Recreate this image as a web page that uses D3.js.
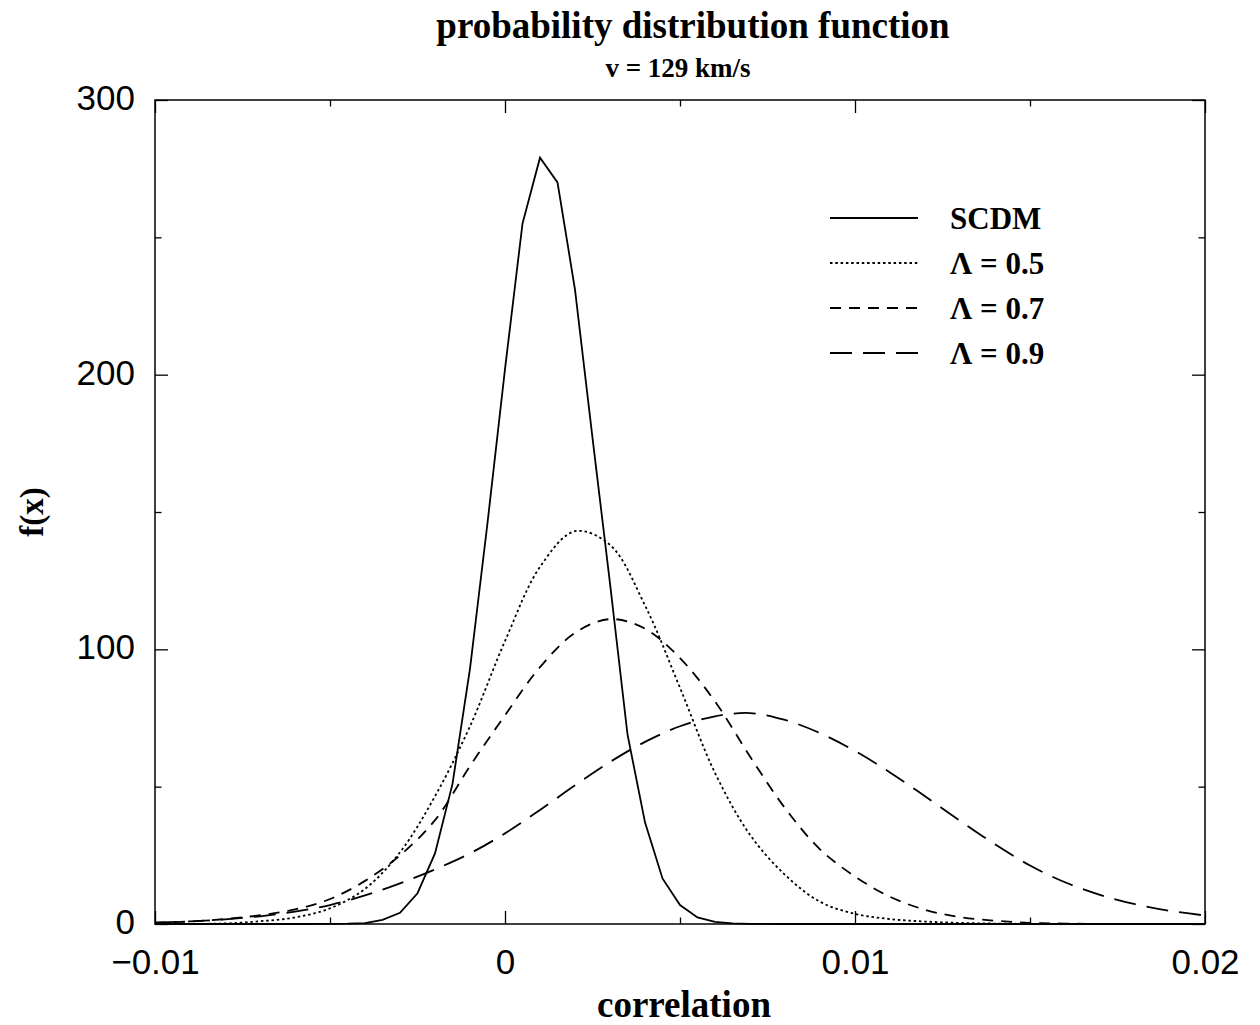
<!DOCTYPE html>
<html>
<head>
<meta charset="utf-8">
<script src="https://cdn.jsdelivr.net/npm/d3@7"></script>
<style>
  body { margin: 0; background: #fff; }
</style>
</head>
<body>
<div id="chart"></div>
<script>
// pdf of the correlation, v = 129 km/s

const width = 1260;
const height = 1025;
const margin = {left: 155, right: 55, top: 100, bottom: 101};

// x grid for the smooth curves (step 0.001)
const lambdaX = [-0.010, -0.009, -0.008, -0.007, -0.006, -0.005, -0.004, -0.003, -0.002, -0.001,
  0.000, 0.001, 0.002, 0.003, 0.004, 0.005, 0.006, 0.007, 0.008, 0.009,
  0.010, 0.011, 0.012, 0.013, 0.014, 0.015, 0.016, 0.017, 0.018, 0.019, 0.020];

const lambda05 = [0, 0.05, 0.2, 1.0, 2.4, 5.7, 12.8, 26.1, 46.5, 72,
  103, 130, 143, 138, 116, 86, 55, 32.5, 17.9, 8.1,
  3.7, 1.8, 0.9, 0.4, 0.15, 0.05, 0, 0, 0, 0, 0];

const lambda07 = [0.5, 0.9, 1.8, 3.2, 5.3, 9.1, 15.7, 25, 37.8, 57.5,
  76, 93.5, 106, 111, 107.5, 96.8, 81, 61, 42.2, 27.2,
  17.3, 9.9, 5.2, 2.5, 1.2, 0.4, 0.15, 0.05, 0, 0, 0];

const lambda09 = [0.5, 0.95, 1.7, 2.8, 4.5, 6.9, 10.4, 14.8, 19.9, 25.7,
  33, 41.5, 50.5, 59, 66.3, 72, 75.6, 76.8, 74.3, 69.5,
  63, 55.2, 46.5, 37.6, 29, 21.3, 15.2, 10.6, 7.2, 4.8, 3.1];

// SCDM is a polyline with step 0.0005 around the peak
const scdmX = [-0.010, -0.009, -0.008, -0.007, -0.006, -0.005, -0.0045, -0.004, -0.0035, -0.003,
  -0.0025, -0.002, -0.0015, -0.001, -0.0005, 0.000, 0.0005, 0.001, 0.0015, 0.002,
  0.0025, 0.003, 0.0035, 0.004, 0.0045, 0.005, 0.0055, 0.006, 0.0065, 0.007,
  0.008, 0.009, 0.010, 0.012, 0.014, 0.016, 0.018, 0.020];
const scdmY = [0, 0, 0, 0, 0, 0.05, 0.1, 0.3, 1.5, 4.1,
  11.2, 25.7, 51, 93, 146, 202, 255, 279, 270, 231,
  177, 124, 69, 37, 16.6, 6.9, 2.4, 0.8, 0.2, 0.05,
  0, 0, 0, 0, 0, 0, 0, 0];

const seriesNames = ["SCDM", "Λ = 0.5", "Λ = 0.7", "Λ = 0.9"];
const seriesDash = [null, "2.5,2.8", "11,8", "22,11"];

const xTicks = [-0.01, 0, 0.01, 0.02];
const xTickLabels = ["\u22120.01", "0", "0.01", "0.02"];
const xMinor = [-0.005, 0.005, 0.015];
const yTicks = [0, 100, 200, 300];
const yMinor = [50, 150, 250];

const svg = d3.select("#chart")
  .append("svg")
  .attr("width", width)
  .attr("height", height)
  .style("font-family", "'Liberation Sans', Arial, sans-serif");

const x = d3.scaleLinear()
  .domain([-0.01, 0.02])
  .range([margin.left, width - margin.right]);

const y = d3.scaleLinear()
  .domain([0, 300])
  .range([height - margin.bottom, margin.top]);

const major = 13;
const minor = 6.5;

// ticks on all four sides, pointing in
function styleAxis(g) {
  g.select(".domain").remove();
  g.selectAll(".tick line").attr("stroke", "#000").attr("stroke-width", 1.3);
}

svg.append("g")
  .attr("transform", `translate(0,${y(0)})`)
  .call(d3.axisBottom(x).tickValues(xTicks).tickSize(-major).tickPadding(25)
    .tickFormat((d, i) => xTickLabels[i]))
  .call(styleAxis)
  .selectAll("text")
    .attr("font-size", "35px")
    .attr("font-family", "'Liberation Sans', Arial, sans-serif")
    .attr("fill", "#000");

svg.append("g")
  .attr("transform", `translate(0,${y(0)})`)
  .call(d3.axisBottom(x).tickValues(xMinor).tickSize(-minor).tickFormat(""))
  .call(styleAxis);

svg.append("g")
  .attr("transform", `translate(0,${y(300)})`)
  .call(d3.axisTop(x).tickValues(xTicks).tickSize(-major).tickFormat(""))
  .call(styleAxis);

svg.append("g")
  .attr("transform", `translate(0,${y(300)})`)
  .call(d3.axisTop(x).tickValues(xMinor).tickSize(-minor).tickFormat(""))
  .call(styleAxis);

svg.append("g")
  .attr("transform", `translate(${x(-0.01)},0)`)
  .call(d3.axisLeft(y).tickValues(yTicks).tickSize(-major).tickPadding(20)
    .tickFormat(d3.format("d")))
  .call(styleAxis)
  .selectAll("text")
    .attr("dy", "0.27em")
    .attr("font-size", "35px")
    .attr("font-family", "'Liberation Sans', Arial, sans-serif")
    .attr("fill", "#000");

svg.append("g")
  .attr("transform", `translate(${x(-0.01)},0)`)
  .call(d3.axisLeft(y).tickValues(yMinor).tickSize(-minor).tickFormat(""))
  .call(styleAxis);

svg.append("g")
  .attr("transform", `translate(${x(0.02)},0)`)
  .call(d3.axisRight(y).tickValues(yTicks).tickSize(-major).tickFormat(""))
  .call(styleAxis);

svg.append("g")
  .attr("transform", `translate(${x(0.02)},0)`)
  .call(d3.axisRight(y).tickValues(yMinor).tickSize(-minor).tickFormat(""))
  .call(styleAxis);

// frame
svg.append("rect")
  .attr("x", x(-0.01))
  .attr("y", y(300))
  .attr("width", x(0.02) - x(-0.01))
  .attr("height", y(0) - y(300))
  .attr("fill", "none")
  .attr("stroke", "#000")
  .attr("stroke-width", 1.5);

// curves
const smooth = d3.line()
  .x(d => x(d[0]))
  .y(d => y(d[1]))
  .curve(d3.curveCatmullRom.alpha(0.5));

const straight = d3.line()
  .x(d => x(d[0]))
  .y(d => y(d[1]));

const lambdaSeries = [lambda05, lambda07, lambda09];

svg.append("path")
  .datum(scdmX.map((v, i) => [v, scdmY[i]]))
  .attr("d", straight)
  .attr("fill", "none")
  .attr("stroke", "#000")
  .attr("stroke-width", 1.8);

lambdaSeries.forEach((vals, k) => {
  svg.append("path")
    .datum(lambdaX.map((v, i) => [v, vals[i]]))
    .attr("d", smooth)
    .attr("fill", "none")
    .attr("stroke", "#000")
    .attr("stroke-width", 1.8)
    .attr("stroke-dasharray", seriesDash[k + 1]);
});

// legend
const legend = svg.append("g").attr("transform", "translate(830,218)");
seriesNames.forEach((name, i) => {
  legend.append("line")
    .attr("x1", 0).attr("x2", 88)
    .attr("y1", i * 45).attr("y2", i * 45)
    .attr("stroke", "#000")
    .attr("stroke-width", 1.8)
    .attr("stroke-dasharray", seriesDash[i]);
  legend.append("text")
    .attr("x", 120)
    .attr("y", i * 45 + 11)
    .attr("font-family", "'Liberation Serif', 'Times New Roman', serif")
    .attr("font-weight", "bold")
    .attr("font-size", "31px")
    .text(name);
});

// titles
const serif = "'Liberation Serif', 'Times New Roman', serif";

svg.append("text")
  .attr("x", 693).attr("y", 38)
  .attr("text-anchor", "middle")
  .attr("font-family", serif)
  .attr("font-weight", "bold")
  .attr("font-size", "37px")
  .text("probability distribution function");

svg.append("text")
  .attr("x", 678).attr("y", 77)
  .attr("text-anchor", "middle")
  .attr("font-family", serif)
  .attr("font-weight", "bold")
  .attr("font-size", "27px")
  .text("v = 129 km/s");

svg.append("text")
  .attr("x", 684).attr("y", 1017)
  .attr("text-anchor", "middle")
  .attr("font-family", serif)
  .attr("font-weight", "bold")
  .attr("font-size", "37px")
  .text("correlation");

svg.append("text")
  .attr("transform", `translate(43,${(y(0) + y(300)) / 2}) rotate(-90)`)
  .attr("text-anchor", "middle")
  .attr("font-family", serif)
  .attr("font-weight", "bold")
  .attr("font-size", "33px")
  .text("f(x)");
</script>
</body>
</html>
